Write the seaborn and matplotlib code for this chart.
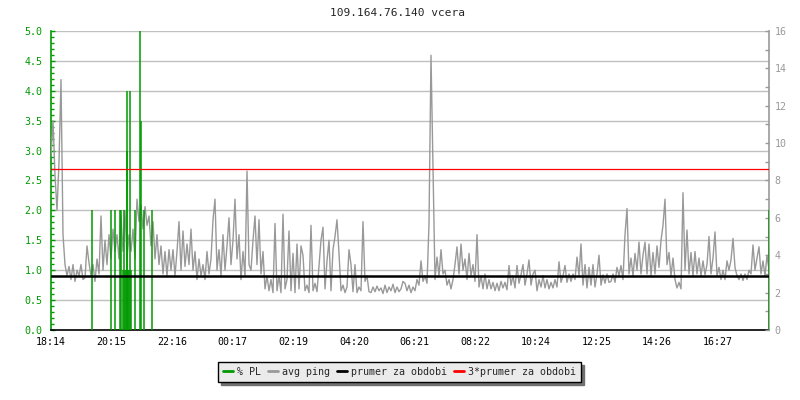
import numpy as np
import pandas as pd
import matplotlib.pyplot as plt
import seaborn as sns
from matplotlib.lines import Line2D
from matplotlib.ticker import MultipleLocator, FormatStrFormatter

# --- DATA ---
TITLE = '109.164.76.140 vcera'
STEP_MIN = 4  # minut mezi vzorky

ping_ms = [
    9.3, 11.2, 8.3, 6.4, 9.0, 13.4, 5.1, 3.5, 2.9, 3.4, 2.7, 3.5, 2.6, 3.2, 2.9, 3.5, 2.7, 2.8, 4.5, 3.6,
    2.9, 3.5, 2.6, 3.8, 3.0, 6.1, 3.2, 4.8, 3.5, 5.1, 3.8, 5.4, 4.2, 5.1, 3.8, 6.1, 4.2, 6.4, 3.8, 5.1,
    4.2, 5.4, 3.8, 7.0, 5.8, 6.7, 5.4, 6.6, 5.6, 6.1, 4.5, 5.8, 3.8, 5.1, 3.5, 4.5, 3.0, 4.2, 2.9, 4.3,
    3.2, 4.3, 2.9, 4.2, 5.8, 3.2, 5.3, 3.4, 4.6, 3.5, 5.4, 3.2, 4.2, 2.7, 3.8, 2.9, 3.5, 2.7, 4.2, 3.0,
    3.8, 5.9, 7.0, 3.2, 4.3, 2.9, 5.1, 3.2, 4.5, 6.0, 3.5, 4.8, 7.0, 3.8, 5.1, 2.7, 4.2, 2.9, 8.5, 3.5,
    3.2, 4.8, 6.1, 3.5, 5.9, 3.0, 4.2, 2.2, 2.9, 2.1, 2.7, 2.0, 5.7, 2.1, 2.9, 2.0, 6.2, 2.2, 2.7, 5.3,
    2.1, 4.1, 2.0, 4.6, 2.2, 4.5, 4.0, 2.1, 2.4, 2.0, 5.6, 2.1, 2.5, 2.05, 3.4, 4.8, 5.5, 2.2, 3.7, 4.8,
    2.1, 4.3, 5.0, 5.9, 4.1, 2.1, 2.4, 2.0, 2.3, 4.3, 3.5, 2.05, 3.5, 2.0, 2.3, 2.1, 5.8, 2.6, 2.9, 2.05,
    2.0, 2.3, 2.05, 2.35, 2.1, 2.25, 1.95, 2.4, 2.0, 2.3, 2.1, 2.45, 2.0, 2.3, 2.05, 2.2, 2.6, 2.5, 2.1, 2.4,
    2.0, 2.3, 2.1, 2.7, 2.4, 3.7, 2.6, 2.9, 2.5, 5.7, 14.7, 8.7, 2.7, 3.9, 2.9, 4.3, 3.0, 3.2, 2.4, 2.7,
    2.2, 2.7, 3.5, 4.45, 3.0, 4.6, 3.2, 3.8, 2.7, 4.1, 2.9, 3.5, 2.6, 5.1, 2.3, 2.9, 2.2, 3.0, 2.2, 2.7,
    2.2, 2.55, 2.1, 2.5, 2.1, 2.6, 2.25, 2.55, 2.15, 3.45, 2.4, 2.9, 2.25, 3.45, 2.5, 2.95, 3.5, 2.4, 3.0, 3.75,
    2.4, 3.0, 3.2, 2.1, 2.7, 2.3, 2.9, 2.25, 2.7, 2.2, 2.55, 2.25, 2.7, 2.3, 3.65, 2.55, 2.9, 3.45, 2.55, 3.0,
    2.6, 3.0, 2.7, 3.9, 2.9, 4.6, 2.4, 3.5, 2.25, 3.35, 2.4, 3.5, 2.3, 3.0, 4.0, 2.4, 2.95, 2.5, 3.0, 2.55,
    2.6, 3.0, 2.55, 3.35, 2.9, 3.45, 2.7, 5.1, 6.5, 3.0, 3.85, 2.9, 4.1, 3.2, 4.7, 3.0, 4.0, 4.7, 3.0, 4.6,
    2.9, 4.15, 3.0, 4.5, 3.35, 4.8, 5.6, 7.0, 3.5, 4.15, 2.9, 3.85, 2.7, 2.25, 2.55, 2.2, 7.35, 3.2, 5.35, 3.0,
    4.15, 2.9, 4.2, 3.0, 3.85, 2.9, 3.7, 2.95, 3.5, 5.0, 3.0, 3.85, 5.25, 2.9, 3.35, 2.7, 3.2, 2.7, 3.7, 3.2,
    3.75, 4.9, 3.35, 2.9, 2.7, 3.0, 2.65, 3.0, 2.7, 3.2, 3.0, 4.55, 3.2, 3.85, 4.45, 3.0, 3.7, 2.9, 4.0, 3.2,
]

# packet loss: minuta od zacatku, procenta
pl_min = [82, 119, 127, 137, 139, 144, 146, 148, 150, 151, 152, 154, 156, 157, 159, 168, 177, 179, 186, 202, 1436]
pl_pct = [2.0, 2.0, 2.0, 2.0, 2.0, 1.0, 2.0, 1.0, 1.0, 4.0, 3.0, 1.0, 1.0, 4.0, 1.0, 2.0, 5.0, 3.5, 2.0, 2.0, 2.0]

mean_ping = 2.88

tick_min = [0, 121, 242, 363, 485, 606, 727, 848, 970, 1091, 1212, 1333]
tick_lbl = ['18:14', '20:15', '22:16', '00:17', '02:19', '04:20',
            '06:21', '08:22', '10:24', '12:25', '14:26', '16:27']

GREEN = '#009900'
GRAY = '#999999'


def plot_ping():
    df = pd.DataFrame({'t': np.arange(len(ping_ms)) * STEP_MIN, 'ping': ping_ms})

    sns.set_style('white')
    plt.rcParams['font.family'] = ['DejaVu Sans Mono']

    fig = plt.figure(figsize=(8, 4), dpi=100)
    ax = fig.add_axes([51 / 800, 70 / 400, 718 / 800, 299 / 400])
    ax2 = ax.twinx()

    # leva osa - % PL
    ax.set_xlim(0, 1436)
    ax.set_ylim(0, 5)
    ax.yaxis.set_major_locator(MultipleLocator(0.5))
    ax.yaxis.set_minor_locator(MultipleLocator(0.1))
    ax.yaxis.set_major_formatter(FormatStrFormatter('%.1f'))
    ax.grid(axis='y', color='#c0c0c0', lw=1)
    ax.grid(axis='x', visible=False)

    # avg ping
    sns.lineplot(data=df, x='t', y='ping', ax=ax2, color=GRAY, lw=1.0, zorder=2)
    # PL sloupce v meritku leve osy
    ax2.vlines(pl_min, 0, pl_pct, transform=ax.transData, color=GREEN, lw=1.1, zorder=3)
    ax2.axhline(mean_ping, color='black', lw=1.8, zorder=4)
    ax2.axhline(3 * mean_ping, color='red', lw=0.9, zorder=4)

    ax2.set_xlim(0, 1436)
    ax2.set_ylim(0, 16)
    ax2.yaxis.set_major_locator(MultipleLocator(2))
    ax2.yaxis.set_minor_locator(MultipleLocator(1))
    ax2.set_xlabel('')
    ax2.set_ylabel('')
    ax.set_xlabel('')

    ax.set_xticks(tick_min)
    ax.set_xticklabels(tick_lbl)

    for s in ['top', 'right']:
        ax.spines[s].set_visible(False)
    for s in ['top', 'left', 'bottom']:
        ax2.spines[s].set_visible(False)
    ax.spines['left'].set_color(GREEN)
    ax.spines['left'].set_linewidth(1.2)
    ax.spines['bottom'].set_color('black')
    ax.spines['bottom'].set_linewidth(1.2)
    ax2.spines['right'].set_color(GRAY)
    ax2.spines['right'].set_linewidth(1.2)

    ax.tick_params(axis='y', which='both', direction='in', colors=GREEN, labelsize=7.2, pad=6)
    ax.tick_params(axis='y', which='major', length=3, width=1)
    ax.tick_params(axis='y', which='minor', length=2, width=1)
    ax.tick_params(axis='x', direction='in', length=3.6, width=1, colors='black', labelsize=7.2, pad=5)
    ax2.tick_params(axis='y', which='both', direction='in', colors=GRAY, labelsize=7.2, pad=4, length=3, width=1)

    fig.text(0.4975, 1 - 13 / 400, TITLE, ha='center', va='center', fontsize=8)

    handles = [Line2D([], [], color=GREEN, lw=2),
               Line2D([], [], color=GRAY, lw=2),
               Line2D([], [], color='black', lw=2),
               Line2D([], [], color='red', lw=2)]
    labels = ['% PL', 'avg ping', 'prumer za obdobi', '3*prumer za obdobi']
    leg = fig.legend(handles, labels, loc='center', bbox_to_anchor=(0.499, 0.071), ncol=4,
                     fontsize=7.2, handlelength=1.0, handletextpad=0.4, columnspacing=0.7,
                     borderpad=0.5, fancybox=False, framealpha=1, edgecolor='black',
                     facecolor='#ebebeb',
                     shadow={'ox': 2.5, 'oy': -2.5, 'color': '#707070', 'alpha': 1})
    leg.get_frame().set_linewidth(1)

    fig.savefig('out.png', dpi=100)


if __name__ == '__main__':
    plot_ping()
